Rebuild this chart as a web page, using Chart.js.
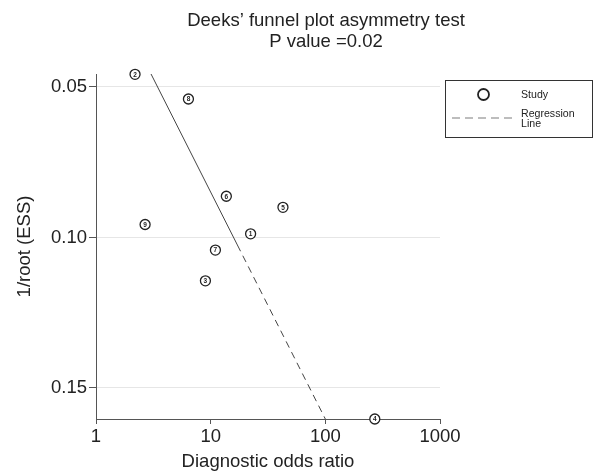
<!DOCTYPE html>
<html>
<head>
<meta charset="utf-8">
<script src="https://cdn.jsdelivr.net/npm/chart.js@4/dist/chart.umd.min.js"></script>
<style>
  html, body { margin: 0; padding: 0; background: #fff; }
  #wrap { width: 594px; height: 473px; }
</style>
</head>
<body>
<div id="wrap"><canvas id="chartDeeks" width="594" height="473"></canvas></div>
<script>
(function () {
  "use strict";

  const FONT = "'Liberation Sans', Arial, Helvetica, sans-serif";
  const INK = "#222";
  const AXIS = "#555";
  const FS = 18.5;

  // study data
  const studyIds = ["1", "2", "3", "4", "5", "6", "7", "8", "9"];
  const studyDor = [22.3, 2.19, 9.0, 270, 42.7, 13.7, 11.0, 6.4, 2.68];
  const studyInvRootEss = [0.0988, 0.0458, 0.1144, 0.1603, 0.0900, 0.0863, 0.1042, 0.0540, 0.0957];

  // regression line: start, change of line style, end
  const regDor = [3.02, 17.1, 100];
  const regInvRootEss = [0.0457, 0.1025, 0.1603];

  const xTicks = [1, 10, 100, 1000];
  const yTicks = [0.05, 0.10, 0.15];
  const titleLines = ["Deeks\u2019 funnel plot asymmetry test", "P value =0.02"];

  const studyPoints = studyDor.map((x, i) => ({ x: x, y: studyInvRootEss[i] }));
  const regPoints = regDor.map((x, i) => ({ x: x, y: regInvRootEss[i] }));

  const titlePlugin = {
    id: "twoLineTitle",
    afterDraw(chart) {
      const ctx = chart.ctx;
      ctx.save();
      ctx.fillStyle = INK;
      ctx.font = FS + "px " + FONT;
      ctx.textAlign = "center";
      ctx.textBaseline = "alphabetic";
      ctx.fillText(titleLines[0], 326, 26);
      ctx.fillText(titleLines[1], 326, 47);
      ctx.restore();
    }
  };

  const studyLabels = {
    id: "studyLabels",
    afterDatasetsDraw(chart) {
      const ctx = chart.ctx;
      const meta = chart.getDatasetMeta(0);
      ctx.save();
      ctx.fillStyle = INK;
      ctx.font = "bold 6.5px " + FONT;
      ctx.textAlign = "center";
      ctx.textBaseline = "middle";
      meta.data.forEach((pt, i) => ctx.fillText(studyIds[i], pt.x, pt.y + 0.5));
      ctx.restore();
    }
  };

  const legendBox = {
    id: "legendBox",
    afterDraw(chart) {
      const ctx = chart.ctx;
      ctx.save();
      ctx.strokeStyle = "#333";
      ctx.lineWidth = 1;
      ctx.strokeRect(445.5, 80.5, 147, 57);

      ctx.lineWidth = 1.8;
      ctx.strokeStyle = INK;
      ctx.beginPath();
      ctx.arc(483.5, 94.5, 5.5, 0, Math.PI * 2);
      ctx.stroke();

      ctx.lineWidth = 1.3;
      ctx.strokeStyle = "#a8a8a8";
      ctx.setLineDash([8, 5]);
      ctx.beginPath();
      ctx.moveTo(452, 118);
      ctx.lineTo(512, 118);
      ctx.stroke();
      ctx.setLineDash([]);

      ctx.fillStyle = INK;
      ctx.font = "10.6px " + FONT;
      ctx.textBaseline = "alphabetic";
      ctx.fillText("Study", 521, 98.3);
      ctx.fillText("Regression", 521, 116.5);
      ctx.fillText("Line", 521, 126.7);
      ctx.restore();
    }
  };

  new Chart(document.getElementById("chartDeeks"), {
    type: "scatter",
    data: {
      datasets: [
        {
          label: "Study",
          data: studyPoints,
          pointStyle: "circle",
          pointRadius: 5,
          pointHoverRadius: 5,
          pointBorderWidth: 1.3,
          borderColor: INK,
          backgroundColor: "#fff",
          clip: false
        },
        {
          type: "line",
          label: "Regression Line",
          data: regPoints,
          borderColor: "#444",
          borderWidth: 1,
          pointRadius: 0,
          fill: false,
          clip: false,
          segment: {
            borderDash: (c) => (c.p0DataIndex === 1 ? [7, 5] : undefined)
          }
        }
      ]
    },
    options: {
      responsive: false,
      animation: false,
      layout: { padding: { left: 0, right: 154, top: 74, bottom: 0 } },
      plugins: {
        legend: { display: false },
        title: { display: false },
        tooltip: { enabled: false }
      },
      scales: {
        x: {
          type: "logarithmic",
          position: "bottom",
          min: 1,
          max: 1000,
          afterBuildTicks: (s) => { s.ticks = xTicks.map((v) => ({ value: v })); },
          afterFit: (s) => { s.height = 54; },
          ticks: {
            callback: (v) => String(v),
            font: { family: FONT, size: FS },
            color: INK,
            maxRotation: 0,
            padding: 2
          },
          grid: { drawOnChartArea: false, drawTicks: true, tickLength: 5, tickColor: AXIS },
          border: { color: AXIS, width: 1 },
          title: {
            display: true,
            text: "Diagnostic odds ratio",
            font: { family: FONT, size: FS },
            color: INK,
            padding: { top: 0, bottom: 0 }
          }
        },
        y: {
          type: "linear",
          reverse: true,
          min: 0.0457,
          max: 0.1603,
          afterBuildTicks: (s) => { s.ticks = yTicks.map((v) => ({ value: v })); },
          afterFit: (s) => { s.width = 96; },
          ticks: {
            callback: (v) => v.toFixed(2),
            font: { family: FONT, size: FS },
            color: INK,
            padding: 2
          },
          grid: { color: "#e6e6e6", tickColor: AXIS, tickLength: 7 },
          border: { color: AXIS, width: 1 },
          title: {
            display: true,
            text: "1/root (ESS)",
            font: { family: FONT, size: FS },
            color: INK,
            padding: { top: 14, bottom: 0 }
          }
        }
      }
    },
    plugins: [titlePlugin, studyLabels, legendBox]
  });
})();
</script>
</body>
</html>
